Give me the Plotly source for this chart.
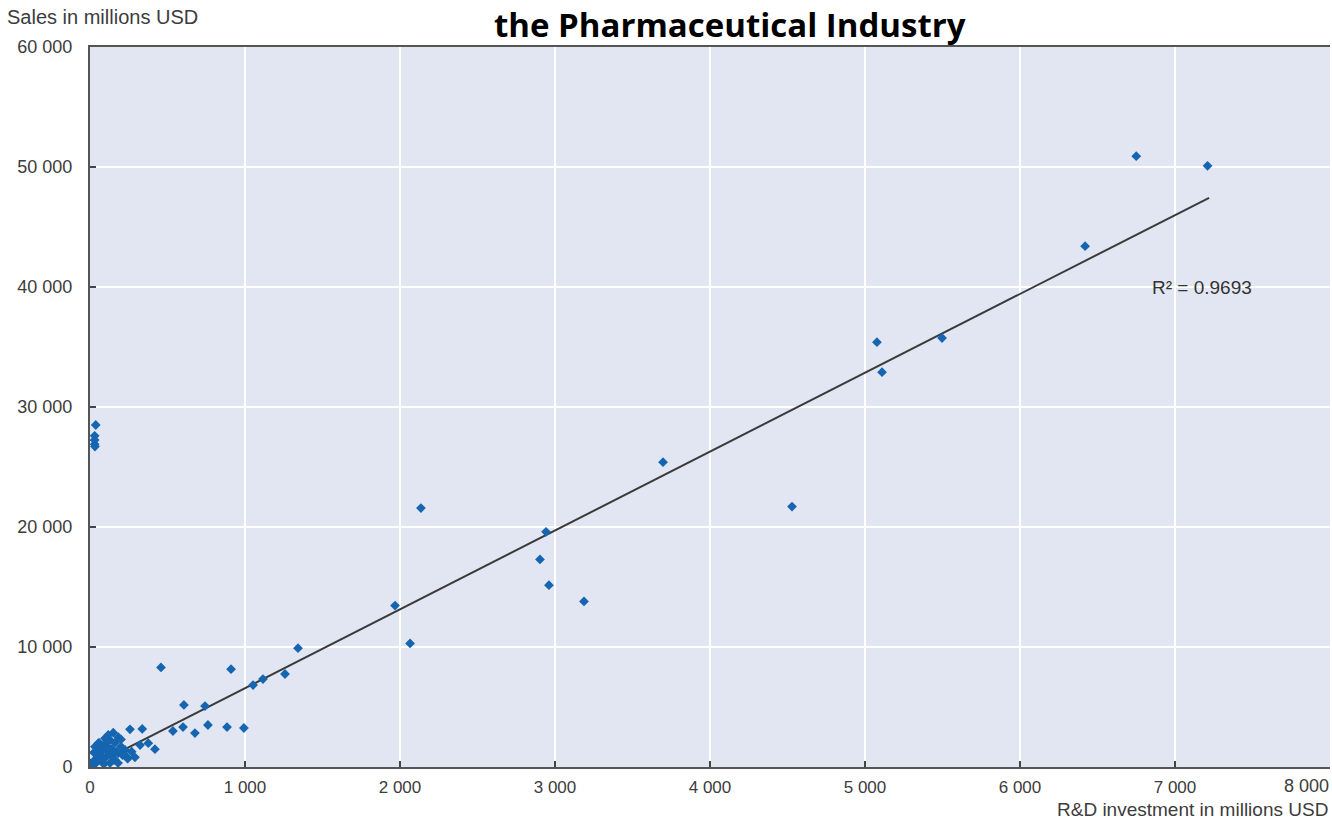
import plotly.graph_objects as go

# R&D investment (x) and sales (y) per company, millions USD
rd_investment = [
    6750, 7210, 6420, 5077, 5497, 5110, 3697, 2135, 4529, 2942, 2903, 2961,
    3187, 1968, 2065, 1342, 458, 910, 1052, 1116, 1258, 606, 742, 761, 600,
    535, 677, 884, 993,
    258, 337, 150, 118, 97, 129, 183, 161, 54, 32, 323, 376, 419, 226, 269,
    181, 237, 243, 290, 84, 116, 65, 142, 45, 97, 161, 19, 77, 129, 181, 0,
    13, 32, 65, 90,
    50, 70, 100, 140, 200, 170, 210, 60, 25, 110, 40, 150, 120, 200,
    37, 30, 30, 30, 32,
]
sales = [
    50900, 50100, 43400, 35400, 35750, 32900, 25400, 21580, 21700, 19600,
    17300, 15150, 13800, 13450, 10300, 9900, 8300, 8150, 6830, 7330, 7750,
    5170, 5080, 3500, 3330, 3000, 2830, 3330, 3250,
    3140, 3170, 2860, 2670, 2390, 2250, 2480, 2030, 1980, 1690, 1830, 1980,
    1480, 1420, 1280, 1140, 860, 690, 810, 1580, 1250, 1170, 1000, 750, 750,
    580, 420, 420, 330, 330, 330,
    170, 250, 580, 250,
    1400, 900, 1800, 1500, 1700, 1300, 1000, 2000, 1200, 2100, 400, 600, 1600, 2300,
    28500, 27600, 27250, 26900, 26700,
]

# Linear trend line (through origin) and its fit quality
trend_slope = 6.57
trend_intercept = 0
trend_x = [0, 7220]
r_squared = 0.9693

x_tick_vals = [0, 1000, 2000, 3000, 4000, 5000, 6000, 7000]
x_tick_text = ["0", "1 000", "2 000", "3 000", "4 000", "5 000", "6 000", "7 000"]
y_tick_vals = [0, 10000, 20000, 30000, 40000, 50000, 60000]
y_tick_text = ["0", "10 000", "20 000", "30 000", "40 000", "50 000", "60 000"]

trend_y = [trend_intercept + trend_slope * v for v in trend_x]

# Plot-area geometry in page pixels
W, H = 1332, 821
ML, MR, MT, MB = 90, 2, 47, 54


def px_x(p):
    return (p - ML) / (W - ML - MR)


def px_y(p):
    return (H - MB - p) / (H - MT - MB)


fig = go.Figure()
fig.add_trace(go.Scatter(
    x=trend_x, y=trend_y, mode="lines",
    line=dict(color="#3a3a3a", width=2),
    hoverinfo="skip", showlegend=False,
))
fig.add_trace(go.Scatter(
    x=rd_investment, y=sales, mode="markers",
    marker=dict(symbol="diamond", size=7.5, color="#1565b0"),
    showlegend=False,
))

label_font = dict(family="Liberation Sans, Arial, sans-serif", size=17, color="#3c3c3c")

fig.update_layout(
    width=W, height=H,
    margin=dict(l=ML, r=MR, t=MT, b=MB),
    paper_bgcolor="white",
    plot_bgcolor="#e2e6f2",
    font=label_font,
    xaxis=dict(
        range=[0, 8000], tickvals=x_tick_vals, ticktext=x_tick_text,
        showgrid=True, gridcolor="white", gridwidth=2, zeroline=False,
        showline=True, linecolor="#555555", linewidth=2, mirror=True,
        ticks="inside", ticklen=6, tickcolor="#444444", tickwidth=2,
        tickfont=label_font, ticklabelstandoff=4,
    ),
    yaxis=dict(
        range=[0, 60000], tickvals=y_tick_vals, ticktext=y_tick_text,
        showgrid=True, gridcolor="white", gridwidth=2, zeroline=False,
        showline=True, linecolor="#555555", linewidth=2,
        ticks="inside", ticklen=6, tickcolor="#444444", tickwidth=2,
        tickfont=dict(family="Liberation Sans, Arial, sans-serif", size=18, color="#3c3c3c"),
        ticklabelstandoff=12,
    ),
    annotations=[
        dict(text="the Pharmaceutical Industry", xref="paper", yref="paper",
             x=px_x(730), y=px_y(0), xanchor="center", yanchor="top",
             showarrow=False, font=dict(family="Open Sans, sans-serif", size=33,
                                        color="black", weight="bold")),
        dict(text="Sales in millions USD", xref="paper", yref="paper",
             x=px_x(5), y=px_y(17), xanchor="left", yanchor="middle", showarrow=False,
             font=dict(family="Liberation Sans, Arial, sans-serif", size=20, color="#3c3c3c")),
        dict(text="R&D investment in millions USD", xref="paper", yref="paper",
             x=px_x(1330), y=px_y(809), xanchor="right", yanchor="middle",
             showarrow=False, font=dict(family="Liberation Sans, Arial, sans-serif",
                                        size=19, color="#3c3c3c")),
        dict(text="8 000", xref="paper", yref="paper",
             x=px_x(1331), y=px_y(786), xanchor="right", yanchor="middle",
             showarrow=False, font=dict(family="Liberation Sans, Arial, sans-serif",
                                        size=18, color="#3c3c3c")),
        dict(text=f"R² = {r_squared}", x=6840, y=40000, xref="x", yref="y",
             showarrow=False, font=dict(family="Liberation Sans, Arial, sans-serif",
                                        size=19, color="#333333"),
             xanchor="left", yanchor="middle"),
    ],
)

fig.write_html("out.html")
